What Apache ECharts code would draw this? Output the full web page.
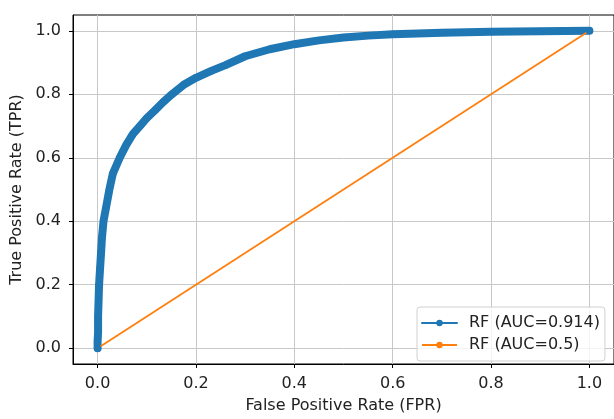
<!DOCTYPE html>
<html>
<head>
<meta charset="UTF-8">
<title>ROC</title>
<script src="https://cdn.jsdelivr.net/npm/echarts@6/dist/echarts.min.js"></script>
<style>
  html, body { margin: 0; padding: 0; background: #fff; }
  #chart { width: 614px; height: 419px; }
</style>
</head>
<body>
<div id="chart"></div>
<script>
// ROC curve
var rfFpr = [0, 0, 0.001, 0.001, 0.002, 0.003, 0.005, 0.007, 0.009, 0.012, 0.018, 0.024, 0.031, 0.045,
             0.058, 0.072, 0.086, 0.1, 0.117, 0.133, 0.151, 0.175, 0.2, 0.23, 0.26, 0.3, 0.35, 0.4, 0.45, 0.5,
             0.55, 0.6, 0.7, 0.8, 0.9, 1.0];
var rfTpr = [0, 0.02, 0.05, 0.1, 0.15, 0.2, 0.25, 0.3, 0.35, 0.4, 0.45, 0.5, 0.55, 0.6,
             0.64, 0.675, 0.7, 0.725, 0.75, 0.775, 0.8, 0.83, 0.852, 0.873, 0.892, 0.92, 0.942, 0.958, 0.97, 0.979,
             0.985, 0.989, 0.994, 0.997, 0.999, 1.0];
var diagFpr = [0, 1];
var diagTpr = [0, 1];
var tickValues = [0, 0.2, 0.4, 0.6, 0.8, 1.0];
var names = ['RF (AUC=0.914)', 'RF (AUC=0.5)'];

function pairs(xs, ys) {
    var out = [];
    for (var i = 0; i < xs.length; i++) out.push([xs[i], ys[i]]);
    return out;
}

var font = 'DejaVu Sans';
var txt = '#222';

function makeAxis(name, gap, margin) {
    return {
        type: 'value',
        min: -0.05,
        max: 1.05,
        name: name,
        nameLocation: 'middle',
        nameGap: gap,
        nameTextStyle: { fontFamily: font, fontSize: 16, color: txt },
        axisLine: { show: true, onZero: false, lineStyle: { color: '#000', width: 1 } },
        axisTick: { show: true, length: 4, customValues: tickValues, lineStyle: { color: '#000' } },
        axisLabel: {
            customValues: tickValues, margin: margin,
            fontFamily: font, fontSize: 16, color: txt,
            formatter: function (v) { return v.toFixed(1); }
        },
        splitLine: { show: true, lineStyle: { color: '#c8c8c8', width: 1 } }
    };
}

var chart = echarts.init(document.getElementById('chart'));
chart.setOption({
    animation: false,
    grid: {
        left: 73, top: 15, width: 543, height: 353,
        show: true, borderColor: '#000', borderWidth: 1, backgroundColor: 'transparent'
    },
    xAxis: makeAxis('False Positive Rate (FPR)', 34, 12),
    yAxis: makeAxis('True Positive Rate (TPR)', 48, 12),
    legend: {
        orient: 'vertical',
        left: 417, top: 307,
        padding: [8, 5, 8, 4],
        itemWidth: 35, itemHeight: 8, itemGap: 6,
        backgroundColor: 'rgba(255,255,255,0.8)',
        borderColor: '#d0d0d0', borderWidth: 1, borderRadius: 3,
        textStyle: { fontFamily: font, fontSize: 16, color: txt, lineHeight: 16, padding: [0, 0, 0, 7] },
        data: [
            { name: names[0], lineStyle: { width: 2 } },
            { name: names[1], lineStyle: { width: 2 } }
        ]
    },
    series: [
        {
            name: names[0],
            type: 'line',
            data: pairs(rfFpr, rfTpr),
            symbol: 'circle',
            symbolSize: 7,
            showSymbol: true,
            itemStyle: { color: '#1f77b4' },
            lineStyle: { color: '#1f77b4', width: 8, cap: 'round', join: 'round' }
        },
        {
            name: names[1],
            type: 'line',
            data: pairs(diagFpr, diagTpr),
            symbol: 'none',
            itemStyle: { color: '#ff7f0e' },
            lineStyle: { color: '#ff7f0e', width: 1.8 }
        }
    ]
});
</script>
</body>
</html>
